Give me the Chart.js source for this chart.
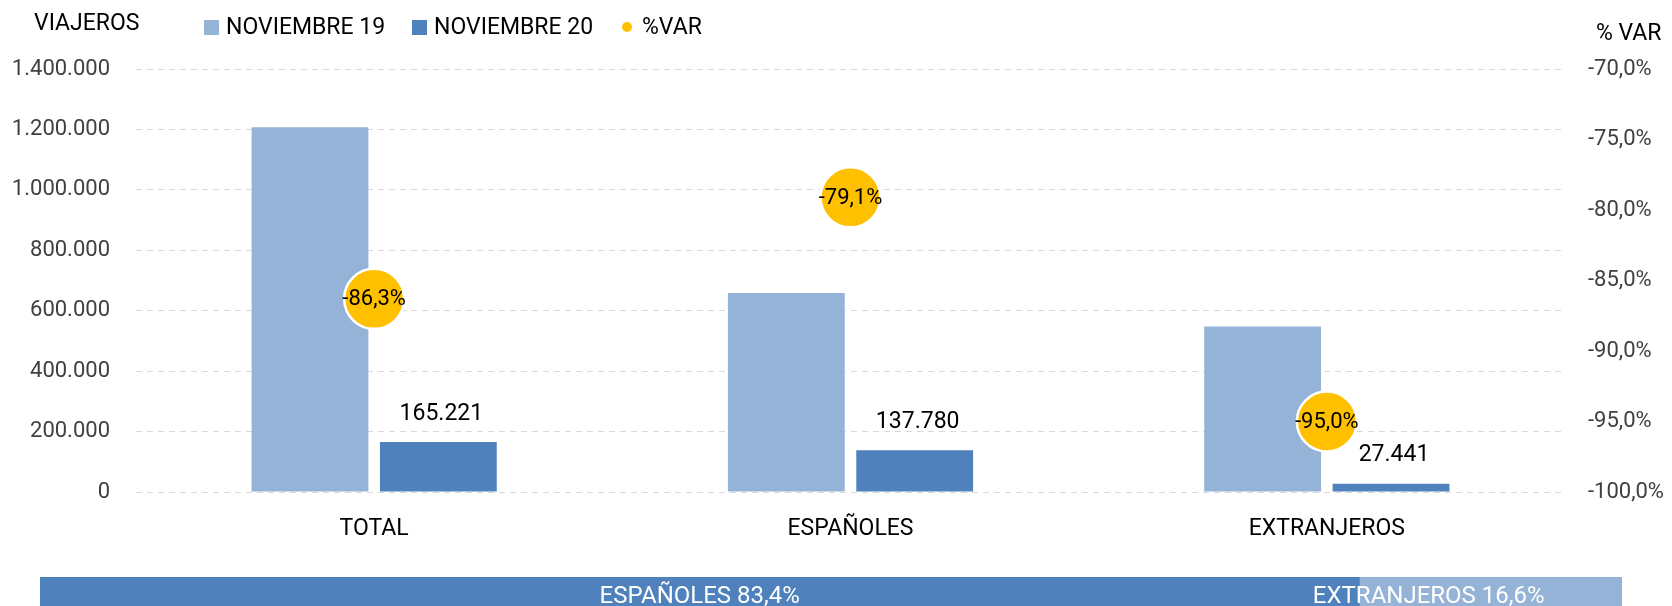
<!DOCTYPE html>
<html>
<head>
<meta charset="utf-8">
<script src="https://cdn.jsdelivr.net/npm/chart.js@4.4.1/dist/chart.umd.min.js"></script>
<style>
  html, body { margin: 0; padding: 0; background: #fff; }
  body { width: 1672px; height: 606px; overflow: hidden; position: relative; font-family: Roboto, "Noto Sans", sans-serif; }
  .txt { position: absolute; font-size: 23px; color: #000; white-space: nowrap; line-height: 1; }
  .sq { position: absolute; width: 15px; height: 15px; }
  .dot { position: absolute; width: 10px; height: 10px; border-radius: 50%; background: #FFC000; }
  #main { position: absolute; left: 0; top: 0; }
  #share { position: absolute; left: 40px; top: 577px; }
</style>
</head>
<body>
<canvas id="main" width="1672" height="560"></canvas>
<canvas id="share" width="1582" height="40"></canvas>

<div class="txt" style="left:34px; top:11px;">VIAJEROS</div>
<div class="txt" style="left:1596px; top:21px;">% VAR</div>

<div class="sq" style="left:204px; top:20px; background:#95B3D7;"></div>
<div class="txt" style="left:226px; top:15px;">NOVIEMBRE 19</div>
<div class="sq" style="left:412px; top:20px; background:#4F81BD;"></div>
<div class="txt" style="left:434px; top:15px;">NOVIEMBRE 20</div>
<div class="dot" style="left:622px; top:22px;"></div>
<div class="txt" style="left:642px; top:15px;">%VAR</div>

<script>
const categories = ['TOTAL', 'ESPAÑOLES', 'EXTRANJEROS'];
const viajerosNov19 = [1207000, 659000, 548000];
const viajerosNov20 = [165221, 137780, 27441];
const varPct = [-86.3, -79.1, -95.0];

const shareLabels = ['ESPAÑOLES', 'EXTRANJEROS'];
const shareValues = [83.4, 16.6];

const leftTicks = [0, 200000, 400000, 600000, 800000, 1000000, 1200000, 1400000];
const rightTicks = [-100, -95, -90, -85, -80, -75, -70];

const FONT = 'Roboto, "Noto Sans", sans-serif';

function miles(v) {
  return String(Math.round(v)).replace(/\B(?=(\d{3})+(?!\d))/g, '.');
}
function pct(v) {
  return v.toFixed(1).replace('.', ',') + '%';
}

const valueLabels = {
  id: 'valueLabels',
  afterDatasetsDraw(chart) {
    const ctx = chart.ctx;
    ctx.save();
    ctx.textAlign = 'center';
    ctx.textBaseline = 'middle';
    ctx.fillStyle = '#000';
    // valores NOVIEMBRE 20 encima de la barra
    ctx.font = '23px ' + FONT;
    chart.getDatasetMeta(2).data.forEach((bar, i) => {
      ctx.fillText(miles(viajerosNov20[i]), bar.x + 3, bar.y - 28);
    });
    // %VAR dentro del circulo
    ctx.font = '22px ' + FONT;
    chart.getDatasetMeta(0).data.forEach((pt, i) => {
      ctx.fillText(pct(varPct[i]), pt.x, pt.y + 1);
    });
    ctx.restore();
  }
};

new Chart(document.getElementById('main'), {
  data: {
    labels: categories,
    datasets: [
      {
        type: 'line',
        label: '%VAR',
        data: varPct,
        yAxisID: 'y1',
        showLine: false,
        order: 0,
        pointRadius: 30,
        pointHoverRadius: 30,
        pointBackgroundColor: '#FFC000',
        pointBorderColor: '#fff',
        pointBorderWidth: 2.5
      },
      {
        type: 'bar',
        label: 'NOVIEMBRE 19',
        data: viajerosNov19,
        yAxisID: 'y',
        order: 1,
        backgroundColor: '#95B3D7',
        categoryPercentage: 0.539,
        barPercentage: 0.91
      },
      {
        type: 'bar',
        label: 'NOVIEMBRE 20',
        data: viajerosNov20,
        yAxisID: 'y',
        order: 1,
        backgroundColor: '#4F81BD',
        categoryPercentage: 0.539,
        barPercentage: 0.91
      }
    ]
  },
  options: {
    responsive: false,
    animation: false,
    layout: { padding: { top: 69, left: 0, right: 0, bottom: 0 } },
    plugins: {
      legend: { display: false },
      tooltip: { enabled: false }
    },
    scales: {
      x: {
        grid: { display: false, drawTicks: false },
        border: { display: false },
        ticks: { color: '#000', font: { family: FONT, size: 23 }, padding: 23 },
        afterFit(scale) { scale.height = 68; }
      },
      y: {
        position: 'left',
        min: 0,
        max: 1400000,
        afterBuildTicks(scale) { scale.ticks = leftTicks.map(v => ({ value: v })); },
        grid: { color: '#D9D9D9', lineWidth: 1, drawTicks: false },
        border: { display: false, dash: [6, 5] },
        ticks: { color: '#404040', font: { family: FONT, size: 22 }, padding: 26, callback: v => miles(v) },
        afterFit(scale) { scale.width = 136; }
      },
      y1: {
        position: 'right',
        min: -100,
        max: -70,
        afterBuildTicks(scale) { scale.ticks = rightTicks.map(v => ({ value: v })); },
        grid: { display: false, drawTicks: false },
        border: { display: false },
        ticks: { color: '#404040', font: { family: FONT, size: 22 }, padding: 23, callback: v => pct(v) },
        afterFit(scale) { scale.width = 107; }
      }
    }
  },
  plugins: [valueLabels]
});

const shareLabelsPlugin = {
  id: 'shareLabels',
  afterDatasetsDraw(chart) {
    const ctx = chart.ctx;
    ctx.save();
    ctx.fillStyle = '#fff';
    ctx.font = '24px ' + FONT;
    ctx.textAlign = 'center';
    ctx.textBaseline = 'alphabetic';
    chart.data.datasets.forEach((ds, i) => {
      const bar = chart.getDatasetMeta(i).data[0];
      const shift = i === 1 ? -62 : 0;
      ctx.fillText(shareLabels[i] + ' ' + pct(shareValues[i]), (bar.x + bar.base) / 2 + shift, 26);
    });
    ctx.restore();
  }
};

new Chart(document.getElementById('share'), {
  type: 'bar',
  data: {
    labels: ['VIAJEROS'],
    datasets: [
      { label: shareLabels[0], data: [shareValues[0]], backgroundColor: '#4F81BD', barPercentage: 1, categoryPercentage: 1 },
      { label: shareLabels[1], data: [shareValues[1]], backgroundColor: '#95B3D7', barPercentage: 1, categoryPercentage: 1 }
    ]
  },
  options: {
    indexAxis: 'y',
    responsive: false,
    animation: false,
    layout: { padding: 0 },
    plugins: { legend: { display: false }, tooltip: { enabled: false } },
    scales: {
      x: { stacked: true, min: 0, max: 100, display: false },
      y: { stacked: true, display: false }
    }
  },
  plugins: [shareLabelsPlugin]
});
</script>
</body>
</html>
